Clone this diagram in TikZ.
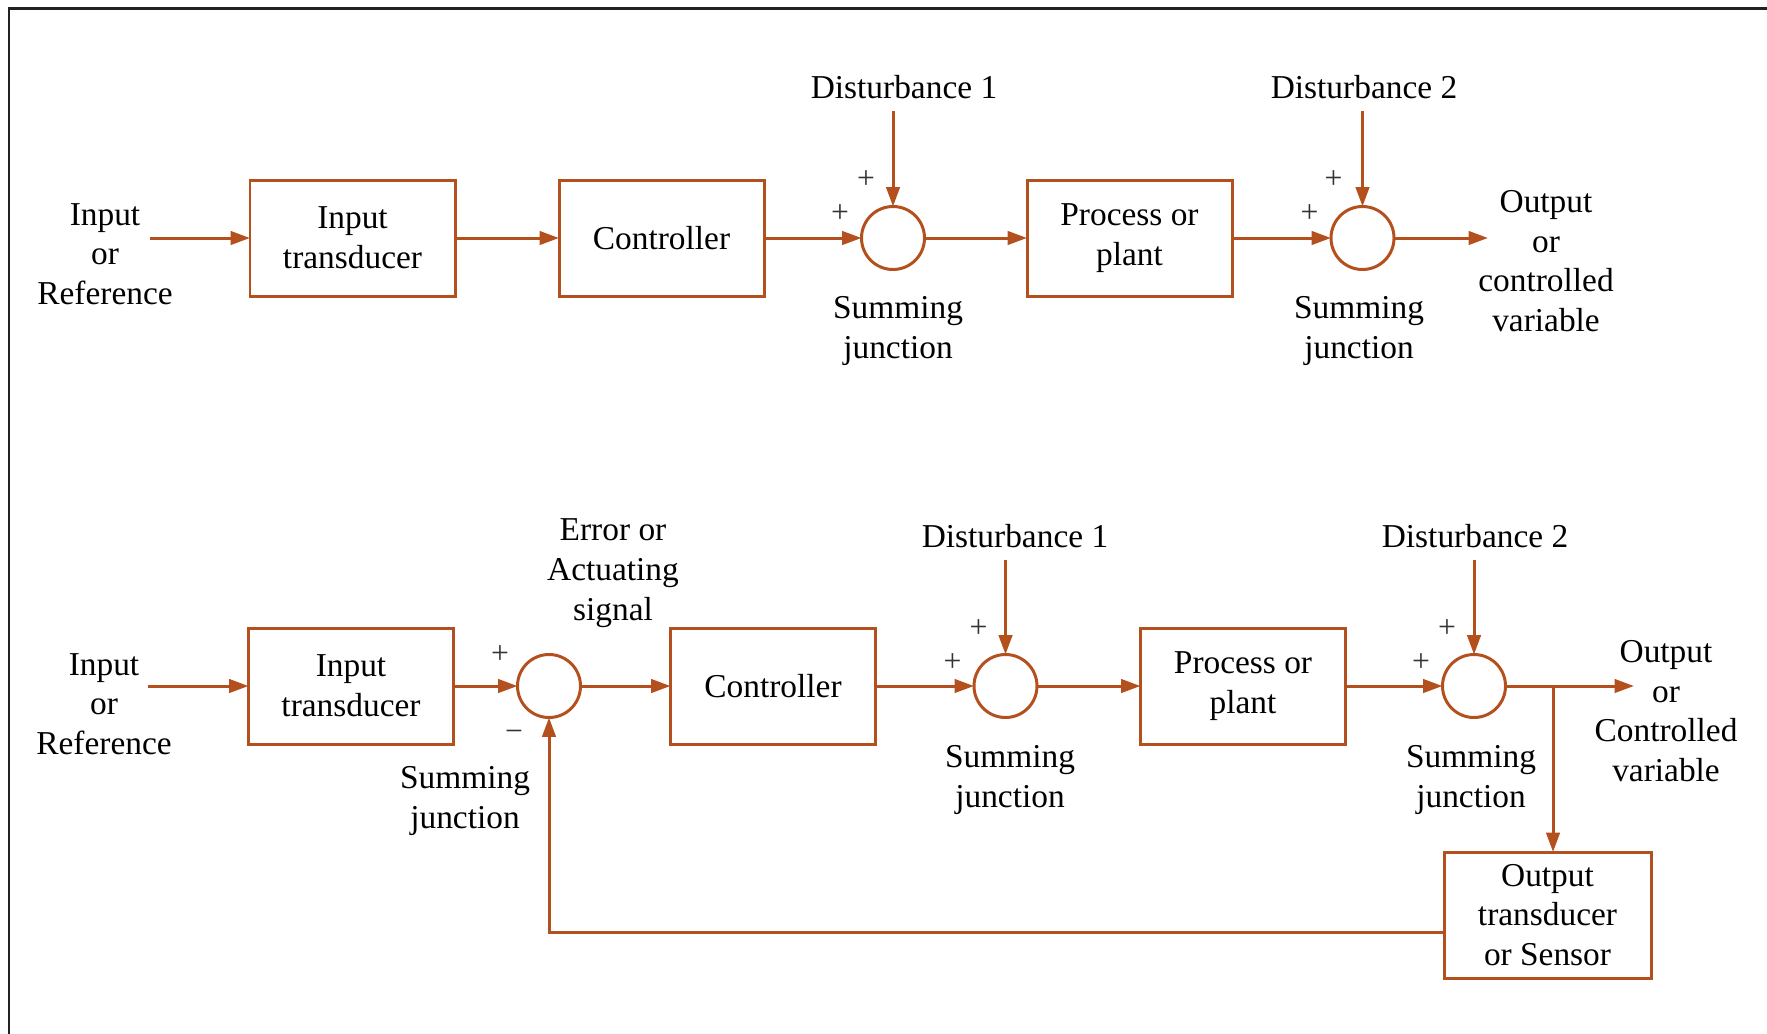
\documentclass[tikz,border=0pt]{standalone}
\usepackage{fontspec}
\setmainfont{Liberation Serif}
\usepackage{tikz}
\usetikzlibrary{arrows.meta, positioning}
\definecolor{rust}{HTML}{B4501E}
\definecolor{frameline}{HTML}{222222}

\begin{document}
\begin{tikzpicture}[
  node distance=1cm,
  txt/.style={font=\fontsize{9.5}{11.3}\selectfont, align=center, text=black},
  blk/.style={txt, draw=rust, line width=0.85pt, minimum width=2.05cm,
              minimum height=1.16cm, outer sep=0pt},
  sj/.style={circle, draw=rust, line width=0.85pt, minimum size=0.63cm,
             inner sep=0pt, outer sep=0pt},
  sgn/.style={font=\fontsize{9}{10}\selectfont, inner sep=0pt, text=black!80},
  arr/.style={-{Triangle[length=5.5pt, width=3.8pt]}, color=rust, line width=0.85pt}
]
  \useasboundingbox (0,0) rectangle (17.67,-10.33);
  \draw[frameline, line width=0.8pt] (0.09,-10.40) -- (0.09,-0.085) -- (17.75,-0.085);

  % Open loop
  \node[blk] (itr1) at (3.525,-2.38) {Input\\transducer};
  \node[blk, right=1.04cm of itr1] (ctl1) {Controller};
  \node[sj, right=0.975cm of ctl1] (s1a) {};
  \node[blk, right=1.025cm of s1a] (proc1) {Process or\\plant};
  \node[sj, right=0.99cm of proc1] (s2a) {};

  \coordinate (in1) at (1.50,-2.38);
  \coordinate (out1) at (14.88,-2.38);

  \node[txt] (inl1) at (1.05,-2.54) {Input\\or\\Reference};
  \node[txt] (d1a) at (9.04,-0.87) {Disturbance 1};
  \node[txt] (d2a) at (13.64,-0.87) {Disturbance 2};
  \node[txt] (sjl1a) at (8.98,-3.31) {Summing\\junction};
  \node[txt] (sjl2a) at (13.59,-3.31) {Summing\\junction};
  \node[txt] (outl1) at (15.46,-2.61) {Output\\or\\controlled\\variable};

  \node[sgn] at ([shift={(-0.27,0.58)}]s1a.center) {+};
  \node[sgn] at ([shift={(-0.53,0.24)}]s1a.center) {+};
  \node[sgn] at ([shift={(-0.29,0.58)}]s2a.center) {+};
  \node[sgn] at ([shift={(-0.53,0.24)}]s2a.center) {+};

  % Closed loop
  \node[blk] (itr2) at (3.51,-6.86) {Input\\transducer};
  \node[sj, right=0.64cm of itr2] (s0) {};
  \node[blk, right=0.90cm of s0] (ctl2) {Controller};
  \node[sj, right=0.985cm of ctl2] (s1b) {};
  \node[blk, right=1.035cm of s1b] (proc2) {Process or\\plant};
  \node[sj, right=0.97cm of proc2] (s2b) {};
  \node[blk, minimum width=2.07cm, minimum height=1.26cm] (sens) at (15.475,-9.15)
    {Output\\transducer\\or Sensor};

  \coordinate (in2) at (1.48,-6.86);
  \coordinate (out2) at (16.34,-6.86);
  \coordinate (br) at (15.53,-6.86);

  \node[txt] (inl2) at (1.04,-7.04) {Input\\or\\Reference};
  \node[txt] (errl) at (6.13,-5.73) {Error or\\Actuating\\signal};
  \node[txt] (sjl0) at (4.65,-8.01) {Summing\\junction};
  \node[txt] (d1b) at (10.15,-5.36) {Disturbance 1};
  \node[txt] (d2b) at (14.75,-5.36) {Disturbance 2};
  \node[txt] (sjl1b) at (10.10,-7.80) {Summing\\junction};
  \node[txt] (sjl2b) at (14.71,-7.80) {Summing\\junction};
  \node[txt] (outl2) at (16.66,-7.11) {Output\\or\\Controlled\\variable};

  \node[sgn] at ([shift={(-0.49,0.31)}]s0.center) {+};
  \node[sgn] at ([shift={(-0.35,-0.50)}]s0.center) {\char"2212};
  \node[sgn] at ([shift={(-0.27,0.57)}]s1b.center) {+};
  \node[sgn] at ([shift={(-0.53,0.23)}]s1b.center) {+};
  \node[sgn] at ([shift={(-0.27,0.57)}]s2b.center) {+};
  \node[sgn] at ([shift={(-0.53,0.23)}]s2b.center) {+};

  % Arrows
  \draw[arr] (in1) -- (itr1);
  \draw[arr] (itr1) -- (ctl1);
  \draw[arr] (ctl1) -- (s1a);
  \draw[arr] (s1a) -- (proc1);
  \draw[arr] (proc1) -- (s2a);
  \draw[arr] (s2a) -- (out1);
  \draw[arr] (s1a |- d1a.south) -- (s1a.north);
  \draw[arr] (s2a |- d2a.south) -- (s2a.north);

  \draw[arr] (in2) -- (itr2);
  \draw[arr] (itr2) -- (s0);
  \draw[arr] (s0) -- (ctl2);
  \draw[arr] (ctl2) -- (s1b);
  \draw[arr] (s1b) -- (proc2);
  \draw[arr] (proc2) -- (s2b);
  \draw[arr] (s2b) -- (out2);
  \draw[arr] (s1b |- d1b.south) -- (s1b.north);
  \draw[arr] (s2b |- d2b.south) -- (s2b.north);
  \draw[arr] (br) -- (br |- sens.north);
  \draw[arr] ([yshift=-0.17cm]sens.west) -| (s0.south);
\end{tikzpicture}
\end{document}
